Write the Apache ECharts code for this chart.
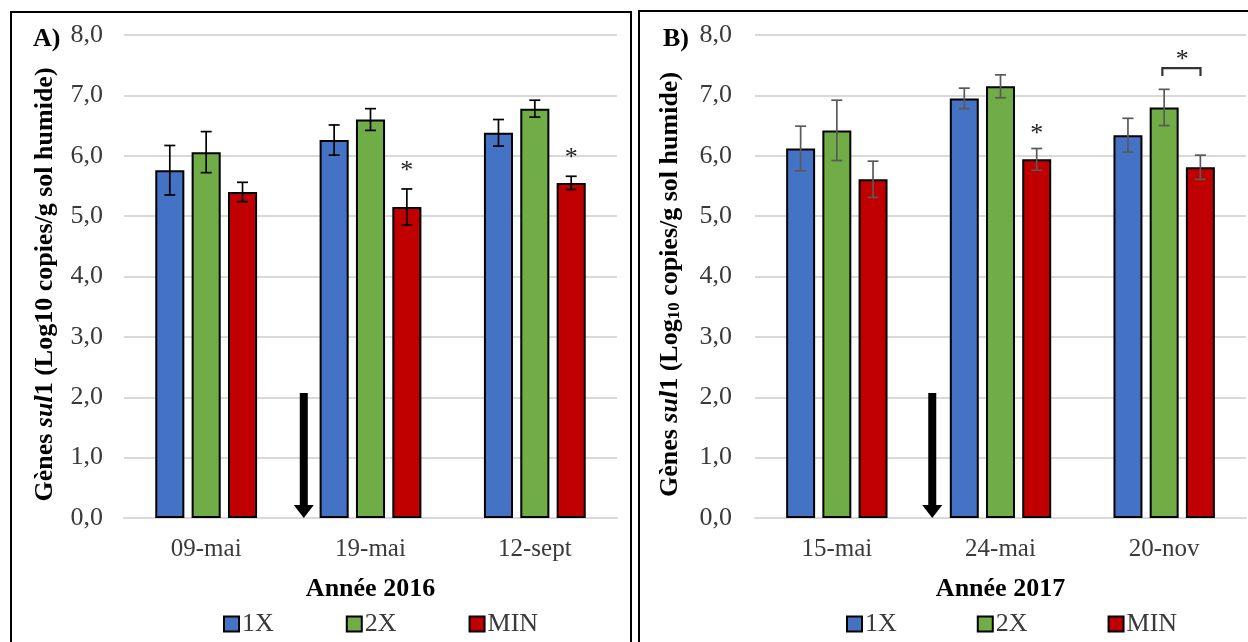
<!DOCTYPE html>
<html><head><meta charset="utf-8">
<script src="https://cdn.jsdelivr.net/npm/echarts@6/dist/echarts.min.js"></script>
<style>html,body{margin:0;padding:0;background:#fff}#c{width:1248px;height:642px}</style>
</head><body><div id="c"></div>
<script>
const seriesNames = ['1X', '2X', 'MIN'];
const colors = ['#4472C4', '#70AD47', '#C00000'];
const categoriesA = ['09-mai', '19-mai', '12-sept'];
const categoriesB = ['15-mai', '24-mai', '20-nov'];
const valuesA_1X = [5.76, 6.26, 6.38];
const valuesA_2X = [6.06, 6.60, 6.78];
const valuesA_MIN = [5.40, 5.15, 5.55];
const errorsA_1X = [0.41, 0.25, 0.22];
const errorsA_2X = [0.34, 0.18, 0.14];
const errorsA_MIN = [0.16, 0.30, 0.11];
const valuesB_1X = [6.12, 6.95, 6.34];
const valuesB_2X = [6.42, 7.15, 6.80];
const valuesB_MIN = [5.61, 5.94, 5.81];
const errorsB_1X = [0.37, 0.17, 0.28];
const errorsB_2X = [0.50, 0.19, 0.30];
const errorsB_MIN = [0.30, 0.18, 0.20];
const yMin = 0, yMax = 8, yInterval = 1;
// annotations: x in category-index units (hidden value axis), y in data units
const arrowA = [[0.594, 2.07]];
const arrowB = [[0.583, 2.07]];
const starsA = [[1.221, 5.74], [2.221, 5.96]];
const starsB = [[1.221, 6.36], [2.11, 7.58]];
const bracketB = [[1.989, 2.222, 7.45, 7.32]];

const FONT = '"Liberation Serif", "Times New Roman", serif';
const TXT = '#3a3a3a';
const BAR_W = 0.177, BAR_GAP = 0.25, BAR_STEP = BAR_W * (1 + BAR_GAP);

function makeErr(k, color) {
  return function (params, api) {
    const i = api.value(0), v = api.value(1), e = api.value(2);
    const band = api.size([1, 0])[0];
    const dx = k * BAR_STEP * band;
    const p1 = api.coord([i, v + e]), p2 = api.coord([i, v - e]);
    const x = p1[0] + dx, hw = 5.5;
    const st = { stroke: color, lineWidth: 1.7 };
    return { type: 'group', children: [
      { type: 'line', shape: { x1: x, y1: p1[1], x2: x, y2: p2[1] }, style: st },
      { type: 'line', shape: { x1: x - hw, y1: p1[1], x2: x + hw, y2: p1[1] }, style: st },
      { type: 'line', shape: { x1: x - hw, y1: p2[1], x2: x + hw, y2: p2[1] }, style: st }
    ]};
  };
}
function arrowRender(params, api) {
  const top = api.coord([api.value(0), api.value(1)]);
  const bot = api.coord([api.value(0), 0]);
  const x = top[0], headH = 13, headW = 10, sw = 4;
  return { type: 'group', children: [
    { type: 'rect', shape: { x: x - sw, y: top[1], width: sw * 2, height: bot[1] - headH - top[1] + 1 }, style: { fill: '#000' } },
    { type: 'polygon', shape: { points: [[x - headW, bot[1] - headH], [x + headW, bot[1] - headH], [x, bot[1]]] }, style: { fill: '#000' } }
  ]};
}
function starRender(params, api) {
  const p = api.coord([api.value(0), api.value(1)]);
  return { type: 'text', x: p[0], y: p[1], style: { text: '*', font: '26px ' + FONT, fill: '#222', textAlign: 'center', textVerticalAlign: 'middle' } };
}
function bracketRender(params, api) {
  const a = api.coord([api.value(0), api.value(2)]);
  const b = api.coord([api.value(1), api.value(3)]);
  return { type: 'polyline', shape: { points: [[a[0], b[1]], [a[0], a[1]], [b[0], a[1]], [b[0], b[1]]] }, style: { stroke: '#333', lineWidth: 2.2, fill: null } };
}

const yName = (sub) => sub
  ? '{b|Gènes }{i|sul}{b|1 (Log}{s|10}{b| copies/g sol humide)}'
  : '{b|Gènes }{i|sul}{b|1 (Log10 copies/g sol humide)}';
const yRich = {
  b: { fontFamily: FONT, fontWeight: 'bold', fontSize: 26, color: '#000' },
  i: { fontFamily: FONT, fontWeight: 'bold', fontStyle: 'italic', fontSize: 26, color: '#000' },
  s: { fontFamily: FONT, fontWeight: 'bold', fontSize: 17, color: '#000', verticalAlign: 'bottom', padding: [9, 0, 0, 0] }
};

function yAxisFor(g, gap, margin, sub) {
  return {
    type: 'value', gridIndex: g, min: yMin, max: yMax, interval: yInterval,
    axisLine: { show: false }, axisTick: { show: false },
    splitLine: { lineStyle: { color: '#D9D9D9', width: 2 } },
    axisLabel: { margin: margin, fontFamily: FONT, fontSize: 26, color: TXT, formatter: v => v.toFixed(1).replace('.', ',') },
    name: yName(sub), nameLocation: 'middle', nameRotate: 90, nameGap: gap,
    nameTextStyle: { rich: yRich, padding: [0, 0, 0, -16] }
  };
}
function xCatFor(g, cats, name) {
  return {
    type: 'category', gridIndex: g, data: cats,
    axisLine: { lineStyle: { color: '#D9D9D9', width: 2 } }, axisTick: { show: false },
    axisLabel: { margin: 19, fontFamily: FONT, fontSize: 25, color: TXT },
    name: name, nameLocation: 'middle', nameGap: 58,
    nameTextStyle: { fontFamily: FONT, fontWeight: 'bold', fontSize: 26, color: '#000' }
  };
}
function xValFor(g) {
  return { type: 'value', gridIndex: g, min: -0.5, max: 2.5, show: false, splitLine: { show: false } };
}
function bars(vals, xi, yi) {
  return vals.map((d, k) => ({
    name: seriesNames[k], type: 'bar', xAxisIndex: xi, yAxisIndex: yi, data: d,
    barWidth: (BAR_W * 100) + '%', barGap: (BAR_GAP * 100) + '%',
    itemStyle: { color: colors[k], borderColor: '#000', borderWidth: 2 }
  }));
}
function errs(vals, errsArr, xi, yi, color) {
  return vals.map((d, k) => ({
    type: 'custom', xAxisIndex: xi, yAxisIndex: yi, z: 5,
    renderItem: makeErr(k - 1, color),
    data: d.map((v, i) => [i, v, errsArr[k][i]]), encode: { x: 0, y: 1 }, silent: true
  }));
}
function legendFor(left, gap) {
  return {
    left: left, top: 606, itemWidth: 15, itemHeight: 15, itemGap: gap, icon: 'rect',
    data: seriesNames,
    textStyle: { fontFamily: FONT, fontSize: 26, color: TXT, padding: [2, 0, 0, -2] },
    itemStyle: { borderColor: '#000', borderWidth: 2 }
  };
}

const chart = echarts.init(document.getElementById('c'), null, { renderer: 'canvas' });
chart.setOption({
  backgroundColor: '#fff',
  animation: false,
  grid: [
    { left: 124, right: 631, top: 35, bottom: 124 },
    { left: 755, right: 2, top: 35, bottom: 124 }
  ],
  xAxis: [xCatFor(0, categoriesA, 'Année 2016'), xValFor(0), xCatFor(1, categoriesB, 'Année 2017'), xValFor(1)],
  yAxis: [yAxisFor(0, 66, 21, false), yAxisFor(1, 72, 23, true)],
  legend: [legendFor(218, 72), legendFor(841, 80)],
  graphic: [
    { type: 'rect', shape: { x: 11, y: 12, width: 620, height: 660 }, style: { fill: null, stroke: '#000', lineWidth: 2 }, z: 100 },
    { type: 'rect', shape: { x: 639, y: 11, width: 620, height: 660 }, style: { fill: null, stroke: '#000', lineWidth: 2 }, z: 100 },
    { type: 'text', x: 33, y: 39, style: { text: 'A)', font: 'bold 26px ' + FONT, fill: '#000', textVerticalAlign: 'middle' } },
    { type: 'text', x: 663, y: 39, style: { text: 'B)', font: 'bold 26px ' + FONT, fill: '#000', textVerticalAlign: 'middle' } }
  ],
  series: [
    ...bars([valuesA_1X, valuesA_2X, valuesA_MIN], 0, 0),
    ...errs([valuesA_1X, valuesA_2X, valuesA_MIN], [errorsA_1X, errorsA_2X, errorsA_MIN], 0, 0, '#000'),
    ...bars([valuesB_1X, valuesB_2X, valuesB_MIN], 2, 1),
    ...errs([valuesB_1X, valuesB_2X, valuesB_MIN], [errorsB_1X, errorsB_2X, errorsB_MIN], 2, 1, '#595959'),
    { type: 'custom', xAxisIndex: 1, yAxisIndex: 0, renderItem: arrowRender, data: arrowA, z: 6, silent: true },
    { type: 'custom', xAxisIndex: 3, yAxisIndex: 1, renderItem: arrowRender, data: arrowB, z: 6, silent: true },
    { type: 'custom', xAxisIndex: 1, yAxisIndex: 0, renderItem: starRender, data: starsA, z: 6, silent: true },
    { type: 'custom', xAxisIndex: 3, yAxisIndex: 1, renderItem: starRender, data: starsB, z: 6, silent: true },
    { type: 'custom', xAxisIndex: 3, yAxisIndex: 1, renderItem: bracketRender, data: bracketB, encode: { x: [0, 1], y: [2, 3] }, z: 6, silent: true }
  ]
});
</script></body></html>
